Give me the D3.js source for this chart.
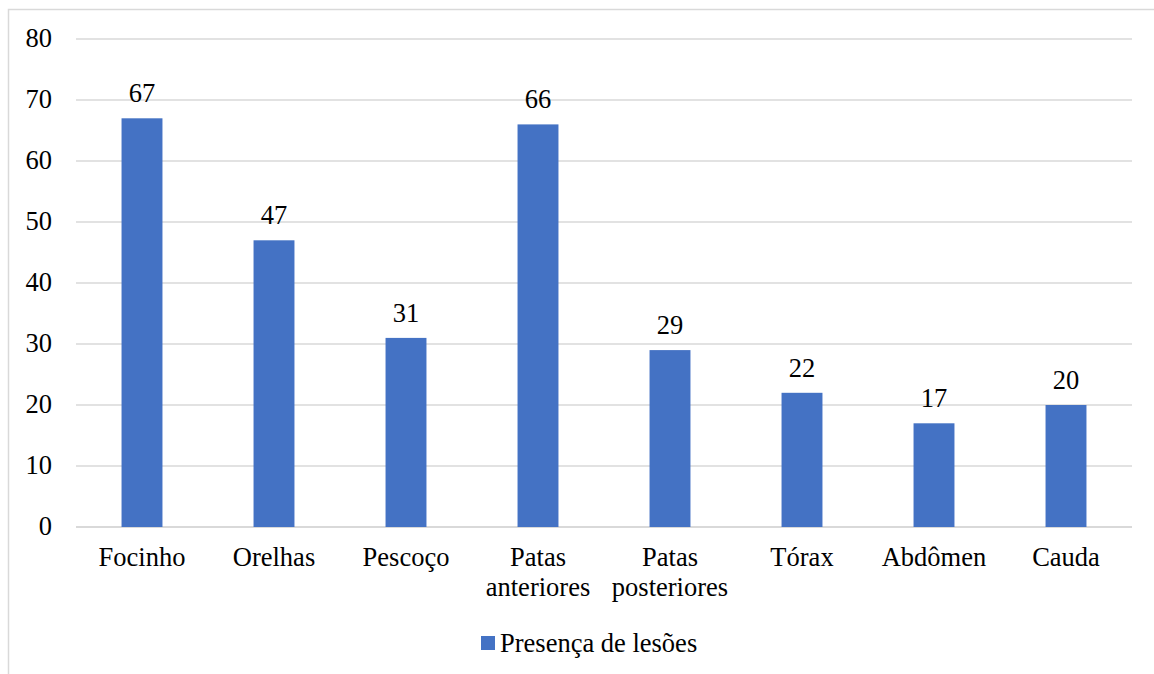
<!DOCTYPE html>
<html>
<head>
<meta charset="utf-8">
<script src="https://cdn.jsdelivr.net/npm/d3@7"></script>
<style>
  html, body { margin: 0; padding: 0; background: #fff; }
  svg { display: block; }
</style>
</head>
<body>
<svg id="chart" width="1154" height="674" font-family="Liberation Serif"></svg>
<script>
// Lesion sites and counts
const categories = [["Focinho"], ["Orelhas"], ["Pescoço"], ["Patas", "anteriores"], ["Patas", "posteriores"], ["Tórax"], ["Abdômen"], ["Cauda"]];
const values = [67, 47, 31, 66, 29, 22, 17, 20];
const yTicks = [0, 10, 20, 30, 40, 50, 60, 70, 80];
const seriesName = "Presença de lesões";

const W = 1154, H = 674;
const plot = { left: 76, right: 1132, top: 39, bottom: 527 };
const barColor = "#4472c4";
const gridColor = "#d9d9d9";
const fontSize = 26.5;
const fontFamily = "Liberation Serif";

const svg = d3.select("#chart");

// Outer chart frame (only its top and left edges fall inside the view)
svg.append("rect")
  .attr("x", 8.5).attr("y", 9.5)
  .attr("width", W + 20).attr("height", H + 20)
  .attr("fill", "none").attr("stroke", "#d9d9d9").attr("stroke-width", 1.5);

const x = d3.scaleBand()
  .domain(d3.range(categories.length))
  .range([plot.left, plot.right])
  .padding(0);

const y = d3.scaleLinear().domain([0, 80]).range([plot.bottom, plot.top]);

const barW = x.bandwidth() * 0.31;

// Horizontal gridlines
svg.append("g").selectAll("line")
  .data(yTicks)
  .join("line")
  .attr("x1", plot.left).attr("x2", plot.right)
  .attr("y1", d => y(d)).attr("y2", d => y(d))
  .attr("stroke", gridColor)
  .attr("stroke-width", d => d === 0 ? 2 : 1.5);

// Y tick labels
svg.append("g").selectAll("text")
  .data(yTicks)
  .join("text")
  .attr("x", 52)
  .attr("y", d => y(d) + 8)
  .attr("text-anchor", "end")
  .attr("font-family", fontFamily)
  .attr("font-size", fontSize)
  .attr("fill", "#000")
  .text(d => d);

// Bars
svg.append("g").selectAll("rect")
  .data(values)
  .join("rect")
  .attr("x", (d, i) => x(i) + x.bandwidth() / 2 - barW / 2)
  .attr("y", d => y(d))
  .attr("width", barW)
  .attr("height", d => y(0) - y(d))
  .attr("fill", barColor);

// Value labels
svg.append("g").selectAll("text")
  .data(values)
  .join("text")
  .attr("x", (d, i) => x(i) + x.bandwidth() / 2)
  .attr("y", d => y(d) - 16)
  .attr("text-anchor", "middle")
  .attr("font-family", fontFamily)
  .attr("font-size", fontSize)
  .attr("fill", "#000")
  .text(d => d);

// Category labels (two-line names wrap onto a second tspan)
const catG = svg.append("g");
categories.forEach((lines, i) => {
  const t = catG.append("text")
    .attr("x", x(i) + x.bandwidth() / 2)
    .attr("y", 566)
    .attr("text-anchor", "middle")
    .attr("font-family", fontFamily)
    .attr("font-size", fontSize)
    .attr("fill", "#000");
  lines.forEach((ln, j) => {
    t.append("tspan")
      .attr("x", x(i) + x.bandwidth() / 2)
      .attr("dy", j === 0 ? 0 : 30)
      .text(ln);
  });
});

// Legend
const leg = svg.append("g");
leg.append("rect")
  .attr("x", 481).attr("y", 636)
  .attr("width", 14).attr("height", 14)
  .attr("fill", barColor);
leg.append("text")
  .attr("x", 500).attr("y", 652)
  .attr("font-family", fontFamily)
  .attr("font-size", fontSize)
  .attr("fill", "#000")
  .text(seriesName);
</script>
</body>
</html>
